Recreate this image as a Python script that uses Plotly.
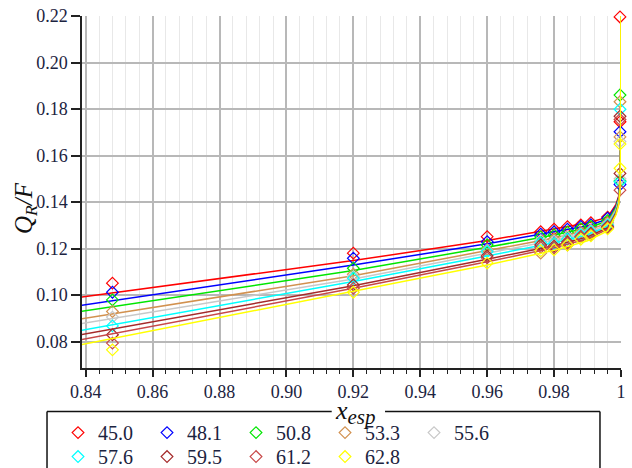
import plotly.graph_objects as go

# Series labels and colours
labels = ["45.0", "48.1", "50.8", "53.3", "55.6", "57.6", "59.5", "61.2", "62.8"]
colors = ["#ff0000", "#0000ff", "#00e600", "#d2914f", "#c8c8c8",
          "#00ffff", "#a52a2a", "#c84848", "#ffff00"]

# Model curves: Q_R/F versus x_esp
x_line = [0.838, 0.92, 0.96, 0.98, 0.99, 0.996, 0.9985, 0.9993, 0.9997, 0.9999, 1.0]
line_45_0 = [0.0990, 0.1148, 0.1234, 0.1285, 0.1310, 0.1335, 0.1390, 0.1425, 0.150, 0.170, 0.260]
line_48_1 = [0.0954, 0.1129, 0.1220, 0.1270, 0.1298, 0.1326, 0.1383, 0.1420, 0.149, 0.169, 0.260]
line_50_8 = [0.0928, 0.1105, 0.1205, 0.1258, 0.1288, 0.1318, 0.1377, 0.1415, 0.148, 0.168, 0.260]
line_53_3 = [0.0896, 0.1083, 0.1191, 0.1245, 0.1277, 0.1310, 0.1370, 0.1410, 0.147, 0.167, 0.260]
line_55_6 = [0.0875, 0.1069, 0.1180, 0.1235, 0.1268, 0.1303, 0.1365, 0.1405, 0.147, 0.167, 0.260]
line_57_6 = [0.0846, 0.1058, 0.1168, 0.1225, 0.1259, 0.1296, 0.1360, 0.1400, 0.146, 0.166, 0.260]
line_59_5 = [0.0828, 0.1040, 0.1154, 0.1212, 0.1250, 0.1289, 0.1354, 0.1395, 0.146, 0.166, 0.260]
line_61_2 = [0.0806, 0.1029, 0.1143, 0.1203, 0.1242, 0.1283, 0.1350, 0.1392, 0.145, 0.165, 0.260]
line_62_8 = [0.0785, 0.1015, 0.1129, 0.1192, 0.1233, 0.1276, 0.1345, 0.1388, 0.145, 0.165, 0.260]

# Experimental points
x_mark = [0.848, 0.92, 0.96, 0.976, 0.98, 0.984, 0.988, 0.991, 0.996, 0.9997, 0.9997]
mark_45_0 = [0.1051, 0.1180, 0.1251, 0.1272, 0.1283, 0.1294, 0.1301, 0.1311, 0.1335, 0.2196, 0.1745]
mark_48_1 = [0.1012, 0.1158, 0.1229, 0.1262, 0.1272, 0.1283, 0.1295, 0.1302, 0.1330, 0.1702, 0.1475]
mark_50_8 = [0.0979, 0.1115, 0.1215, 0.1250, 0.1258, 0.1270, 0.1285, 0.1295, 0.1320, 0.1860, 0.1490]
mark_53_3 = [0.0929, 0.1089, 0.1195, 0.1180, 0.1240, 0.1215, 0.1270, 0.1280, 0.1310, 0.1831, 0.1680]
mark_55_6 = [0.0905, 0.1080, 0.1190, 0.1235, 0.1232, 0.1250, 0.1262, 0.1275, 0.1305, 0.1660, 0.1500]
mark_57_6 = [0.0867, 0.1072, 0.1187, 0.1225, 0.1222, 0.1240, 0.1258, 0.1272, 0.1300, 0.1799, 0.1487]
mark_59_5 = [0.0829, 0.1043, 0.1168, 0.1215, 0.1210, 0.1228, 0.1250, 0.1265, 0.1295, 0.1769, 0.1523]
mark_61_2 = [0.0793, 0.1029, 0.1160, 0.1205, 0.1203, 0.1222, 0.1251, 0.1260, 0.1290, 0.1755, 0.1451]
mark_62_8 = [0.0764, 0.1012, 0.1137, 0.1190, 0.1194, 0.1215, 0.1240, 0.1255, 0.1285, 0.1649, 0.1545]

# Axis ticks
x_ticks = [0.84, 0.86, 0.88, 0.90, 0.92, 0.94, 0.96, 0.98, 1.0]
x_tick_text = ["0.84", "0.86", "0.88", "0.90", "0.92", "0.94", "0.96", "0.98", "1"]
y_ticks = [0.08, 0.10, 0.12, 0.14, 0.16, 0.18, 0.20, 0.22]
y_tick_text = ["0.08", "0.10", "0.12", "0.14", "0.16", "0.18", "0.20", "0.22"]

lines = [line_45_0, line_48_1, line_50_8, line_53_3, line_55_6,
         line_57_6, line_59_5, line_61_2, line_62_8]
marks = [mark_45_0, mark_48_1, mark_50_8, mark_53_3, mark_55_6,
         mark_57_6, mark_59_5, mark_61_2, mark_62_8]

SERIF = "Liberation Serif"
TEXT = "#1c2340"
AXIS = "#222222"

fig = go.Figure()
for i, (lab, col, ly, my) in enumerate(zip(labels, colors, lines, marks)):
    fig.add_trace(go.Scatter(
        x=x_line, y=ly, mode="lines",
        line=dict(color=col, width=1.5),
        showlegend=False, hoverinfo="skip",
    ))
    fig.add_trace(go.Scatter(
        x=x_mark, y=my, mode="markers", name=lab,
        marker=dict(symbol="diamond-open", size=9, color=col, line=dict(width=1.2)),
        cliponaxis=False,
        legend="legend" if i < 5 else "legend2",
    ))

legend_style = dict(
    orientation="h", xanchor="left", yanchor="middle",
    entrywidth=44, entrywidthmode="pixels",
    bgcolor="rgba(0,0,0,0)", borderwidth=0,
    font=dict(family=SERIF, size=20, color=TEXT),
)

# Legend frame, with a gap in the top edge for the x-axis title
box_l, box_r, box_t, box_b = -0.0649, 0.961, -0.1239, -0.36
gap_l, gap_r = 0.4633, 0.5622
frame = dict(color="#111111", width=1.5)
frame_shapes = [
    dict(type="line", xref="paper", yref="paper", x0=box_l, x1=gap_l, y0=box_t, y1=box_t, line=frame),
    dict(type="line", xref="paper", yref="paper", x0=gap_r, x1=box_r, y0=box_t, y1=box_t, line=frame),
    dict(type="line", xref="paper", yref="paper", x0=box_l, x1=box_l, y0=box_t, y1=box_b, line=frame),
    dict(type="line", xref="paper", yref="paper", x0=box_r, x1=box_r, y0=box_t, y1=box_b, line=frame),
]

fig.update_layout(
    width=632, height=468,
    margin=dict(l=82, r=11, t=16, b=100, autoexpand=False),
    paper_bgcolor="white", plot_bgcolor="white",
    font=dict(family=SERIF, color=TEXT, size=18),
    xaxis=dict(
        range=[0.8389, 1.0],
        tickmode="array", tickvals=x_ticks, ticktext=x_tick_text,
        ticks="outside", ticklen=7, tickwidth=1.5, tickcolor=AXIS,
        showline=True, linecolor=AXIS, linewidth=1.5,
        showgrid=True, gridcolor="#b8b8b8", gridwidth=1.5,
        zeroline=False,
        tickfont=dict(family=SERIF, size=18, color=TEXT),
        minor=dict(tickmode="linear", tick0=0.84, dtick=0.004,
                   ticks="outside", ticklen=4, tickwidth=1.2, tickcolor=AXIS,
                   showgrid=True, gridcolor="#e8e8e8", gridwidth=1),
    ),
    yaxis=dict(
        range=[0.0686, 0.22],
        tickmode="array", tickvals=y_ticks, ticktext=y_tick_text,
        ticks="outside", ticklen=9, tickwidth=1.5, tickcolor=AXIS,
        showline=True, linecolor=AXIS, linewidth=1.5,
        showgrid=True, gridcolor="#b8b8b8", gridwidth=1.5,
        zeroline=False,
        tickfont=dict(family=SERIF, size=18, color=TEXT),
    ),
    legend=dict(legend_style, x=-0.0445, y=-0.1835),
    legend2=dict(legend_style, x=-0.0445, y=-0.2516),
    shapes=frame_shapes,
    annotations=[
        dict(
            text="<i>Q</i><sub><i>R</i></sub><i>/F</i>",
            xref="paper", yref="paper", x=-0.1039, y=0.4546,
            xanchor="center", yanchor="middle", textangle=-90,
            showarrow=False, font=dict(family=SERIF, size=25, color="#111111"),
        ),
        dict(
            text="<i>x</i><sub><i><span style='font-size:21px'>esp</span></i></sub>",
            xref="paper", yref="paper", x=0.5065, y=-0.126,
            xanchor="center", yanchor="middle",
            showarrow=False,
            font=dict(family=SERIF, size=26, color="#111111"),
        ),
    ],
)

fig.write_html("out.html")
